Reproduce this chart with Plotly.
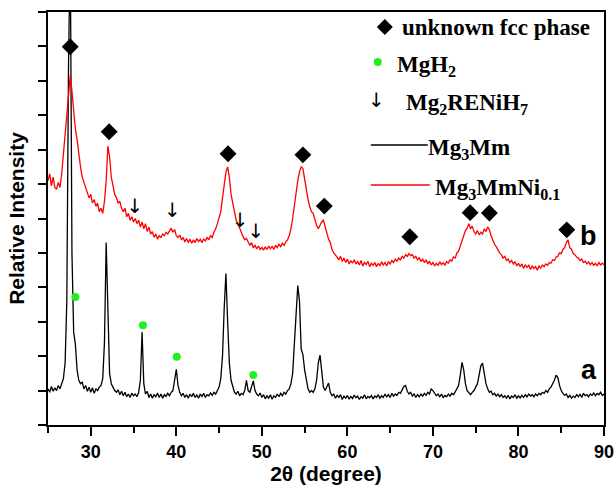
import plotly.graph_objects as go

# 2theta grid: 25.0 .. 90.0 in 0.2 degree steps (index i -> 25 + 0.2*i)
start_2theta = 25.0
step_2theta = 0.2

# curve a: Mg3Mm (black)
intensity_a = [
    1.05, 0.95, 1.12, 0.98, 1.08, 1.0, 1.15, 1.05, 1.2, 1.35,
    1.8, 3.6, 10.5, 14.0, 5.0, 2.7, 2.35, 1.6, 1.3, 1.2,
    1.25, 1.05, 1.15, 0.98, 1.1, 0.95, 1.08, 0.92, 1.05, 1.0,
    1.1, 1.15, 1.35, 2.4, 5.3, 3.6, 1.5, 1.2, 1.08, 1.0,
    0.95, 1.02, 0.88, 0.98, 0.85, 0.95, 0.82, 0.9, 0.8, 0.92,
    0.85, 0.9, 0.82, 0.95, 1.3, 2.7, 1.2, 0.9, 0.98, 0.8,
    0.9, 0.78, 0.88, 0.82, 0.93, 0.8, 0.9, 0.78, 0.88, 0.83,
    0.92, 0.85, 0.95, 1.0, 1.3, 1.62, 1.15, 0.95, 0.85, 0.92,
    0.8, 0.88, 0.78, 0.9, 0.82, 0.92, 0.8, 0.87, 0.78, 0.9,
    0.83, 0.92, 0.8, 0.88, 0.85, 0.93, 0.86, 0.95, 0.9, 1.0,
    1.1, 1.35, 2.0, 3.4, 4.4, 3.0, 1.8, 1.3, 1.1, 0.95,
    0.9, 0.98, 0.85, 0.92, 0.88, 1.0, 1.3, 1.0, 0.95, 1.1,
    1.28, 1.0, 0.9, 0.85, 0.93, 0.8, 0.88, 0.76, 0.85, 0.78,
    0.88, 0.75, 0.85, 0.8, 0.9, 0.82, 0.92, 0.85, 0.95, 0.9,
    1.0, 1.05, 1.2, 1.5, 2.2, 3.2, 4.05, 3.6, 2.2, 2.05,
    1.6, 1.25, 1.05, 0.95, 1.0, 0.95, 1.05, 1.3, 1.8, 2.03,
    1.5, 1.1, 1.0, 1.1, 1.22, 0.95, 0.85, 0.9, 0.78, 0.86,
    0.8, 0.88, 0.74, 0.84, 0.78, 0.86, 0.75, 0.83, 0.77, 0.87,
    0.79, 0.84, 0.74, 0.82, 0.78, 0.88, 0.76, 0.83, 0.79, 0.86,
    0.76, 0.84, 0.8, 0.88, 0.78, 0.85, 0.8, 0.9, 0.82, 0.88,
    0.8, 0.92, 0.84, 0.9, 0.86, 0.95, 0.92, 1.02, 1.12, 1.15,
    0.98, 0.9, 0.95, 0.84, 0.9, 0.8, 0.88, 0.82, 0.9, 0.84,
    0.92, 0.86, 0.95, 0.9, 1.05, 1.0, 0.92, 0.85, 0.9, 0.82,
    0.9, 0.8, 0.86, 0.82, 0.9, 0.84, 0.92, 0.88, 0.96, 1.05,
    1.15, 1.45, 1.82, 1.6, 1.2, 1.0, 0.92, 0.88, 0.95, 1.0,
    1.1, 1.2, 1.45, 1.72, 1.8, 1.5, 1.2, 1.05, 0.95, 0.98,
    0.88, 0.92, 0.84, 0.9, 0.82, 0.88, 0.8, 0.85, 0.78, 0.86,
    0.76, 0.84, 0.8, 0.88, 0.78, 0.85, 0.79, 0.86, 0.8, 0.88,
    0.82, 0.9, 0.84, 0.88, 0.82, 0.9, 0.85, 0.92, 0.88, 0.95,
    0.92, 1.0, 0.95, 1.05, 1.1, 1.2, 1.3, 1.45, 1.38, 1.15,
    1.0, 0.92, 0.86, 0.9, 0.8, 0.86, 0.78, 0.84, 0.8, 0.88,
    0.82, 0.9, 0.8, 0.92, 0.85, 0.88, 0.82, 0.9, 0.86, 0.93,
    0.85, 0.92, 0.88, 0.95, 0.86, 0.9,
]

# curve b: Mg3MmNi0.1 (red)
intensity_b = [
    7.1, 7.3, 6.95, 7.2, 6.9, 6.85, 7.05, 6.9, 7.3, 7.9,
    8.4, 9.0, 9.6, 10.15, 9.7, 9.0, 8.6, 8.3, 7.8, 7.5,
    7.2, 7.05, 6.85, 6.75, 6.6, 6.7, 6.45, 6.55, 6.35, 6.45,
    6.2, 6.3, 6.15, 6.5, 7.1, 8.1, 7.8, 7.2, 6.9, 6.7,
    6.6, 6.45, 6.5, 6.3, 6.2, 6.3, 6.05, 6.15, 5.95, 6.05,
    5.9, 6.0, 5.85, 5.95, 5.75, 5.9, 5.7, 5.85, 5.62, 5.75,
    5.55, 5.62, 5.45, 5.55, 5.4, 5.5, 5.45, 5.55, 5.5, 5.6,
    5.55, 5.65, 5.72, 5.6, 5.68, 5.5, 5.45, 5.52, 5.38, 5.45,
    5.32, 5.42, 5.3, 5.4, 5.28, 5.38, 5.3, 5.42, 5.33, 5.4,
    5.3, 5.4, 5.35, 5.45, 5.38, 5.5, 5.45, 5.6, 5.7, 5.85,
    6.0, 6.2, 6.6, 7.0, 7.35, 7.5, 7.2, 6.7, 6.45, 6.15,
    5.95, 5.85, 5.7, 5.6, 5.48, 5.38, 5.42, 5.3, 5.22, 5.3,
    5.15, 5.22, 5.12, 5.2, 5.1, 5.16, 5.08, 5.18, 5.1, 5.2,
    5.12, 5.2, 5.1, 5.22, 5.15, 5.25, 5.18, 5.28, 5.22, 5.32,
    5.38, 5.5, 5.7, 6.0, 6.4, 6.8, 7.1, 7.35, 7.5, 7.45,
    7.1, 6.85, 6.55, 6.35, 6.2, 6.15, 5.95, 5.8, 5.7, 5.82,
    5.9, 5.95, 5.75, 5.55, 5.4, 5.3, 5.1, 5.0, 4.95, 4.88,
    4.8, 4.9, 4.75, 4.85, 4.72, 4.82, 4.68, 4.78, 4.7, 4.8,
    4.68, 4.75, 4.65, 4.78, 4.62, 4.72, 4.66, 4.76, 4.6, 4.7,
    4.64, 4.72, 4.6, 4.7, 4.62, 4.74, 4.65, 4.72, 4.62, 4.75,
    4.68, 4.78, 4.72, 4.82, 4.76, 4.85, 4.8, 4.9, 4.85, 4.95,
    4.9, 4.98, 4.92, 4.95, 4.85, 4.9, 4.8, 4.86, 4.75, 4.82,
    4.72, 4.8, 4.68, 4.76, 4.65, 4.72, 4.62, 4.7, 4.64, 4.74,
    4.66, 4.72, 4.64, 4.75, 4.7, 4.8, 4.76, 4.88, 4.85, 5.0,
    5.05, 5.2, 5.35, 5.45, 5.65, 5.72, 5.85, 5.7, 5.78, 5.62,
    5.55, 5.65, 5.52, 5.6, 5.55, 5.7, 5.62, 5.75, 5.68, 5.5,
    5.35, 5.25, 5.18, 5.08, 5.0, 4.95, 4.85, 4.9, 4.78, 4.82,
    4.72, 4.78, 4.68, 4.75, 4.62, 4.7, 4.6, 4.68, 4.55, 4.65,
    4.58, 4.64, 4.52, 4.62, 4.55, 4.6, 4.5, 4.62, 4.56, 4.65,
    4.6, 4.68, 4.64, 4.72, 4.7, 4.8, 4.78, 4.88, 4.9, 5.0,
    4.98, 5.1, 5.15, 5.3, 5.38, 5.15, 5.1, 4.98, 4.95, 4.88,
    4.85, 4.78, 4.82, 4.72, 4.76, 4.68, 4.74, 4.66, 4.72, 4.64,
    4.7, 4.62, 4.72, 4.65, 4.7, 4.66,
]

# phase markers
fcc_x = [27.6, 32.15, 46.05, 54.8, 57.3, 67.3, 74.35, 76.6, 85.65]
fcc_y = [10.99, 8.52, 7.88, 7.85, 6.36, 5.47, 6.17, 6.16, 5.67]
mgh2_x = [28.2, 36.1, 40.05, 49.0]
mgh2_y = [3.72, 2.9, 1.98, 1.45]
hydride_x = [35.15, 39.55, 47.45, 49.3]
hydride_y = [6.3, 6.2, 5.9, 5.58]

theta_a = [start_2theta + step_2theta * i for i in range(len(intensity_a))]
theta_b = [start_2theta + step_2theta * i for i in range(len(intensity_b))]

fig = go.Figure()
fig.add_trace(go.Scatter(x=theta_a, y=intensity_a, mode="lines",
                         line=dict(color="black", width=1.3), showlegend=False))
fig.add_trace(go.Scatter(x=theta_b, y=intensity_b, mode="lines",
                         line=dict(color="#ff0000", width=1.3), showlegend=False))
fig.add_trace(go.Scatter(x=fcc_x, y=fcc_y, mode="markers",
                         marker=dict(symbol="diamond", size=13, color="black"),
                         showlegend=False, cliponaxis=False))
fig.add_trace(go.Scatter(x=mgh2_x, y=mgh2_y, mode="markers",
                         marker=dict(symbol="circle", size=8, color="#22ee22"),
                         showlegend=False))
fig.add_trace(go.Scatter(x=hydride_x, y=hydride_y, mode="text",
                         text=["↓"] * len(hydride_x),
                         textfont=dict(family="DejaVu Sans", size=20, color="black"),
                         showlegend=False))

# curve labels
fig.add_annotation(x=88.3, y=1.6, text="a", showarrow=False,
                   font=dict(family="Liberation Sans", size=27, color="black", weight="bold"))
fig.add_annotation(x=88.2, y=5.5, text="b", showarrow=False,
                   font=dict(family="Liberation Sans", size=27, color="black", weight="bold"))

# manual legend (paper coords)
L, W, B, H = 48.5, 555.5, 425.0, 413.0
def px(xp):
    return (xp - L) / W
def py(yp):
    return (B - yp) / H

serif = dict(family="Liberation Serif", size=23, color="black", weight="bold")
def legend_text(x, y, text):
    fig.add_annotation(xref="paper", yref="paper", x=px(x), y=py(y),
                       xanchor="left", yanchor="middle",
                       text=text, showarrow=False, font=serif)

# diamond
dx, dy, r = 385, 27, 8
fig.add_shape(type="path", xref="paper", yref="paper",
              path=f"M {px(dx-r)},{py(dy)} L {px(dx)},{py(dy-r)} L {px(dx+r)},{py(dy)} L {px(dx)},{py(dy+r)} Z",
              fillcolor="black", line=dict(color="black", width=0))
legend_text(400, 27, "unknown fcc phase")
# green dot
fig.add_shape(type="circle", xref="paper", yref="paper",
              x0=px(374), x1=px(382), y0=py(66), y1=py(58),
              fillcolor="#22ee22", line=dict(color="#22ee22", width=0))
legend_text(395, 66, "MgH<sub>2</sub>")
# arrow
fig.add_annotation(xref="paper", yref="paper", x=px(377), y=py(100),
                   xanchor="center", yanchor="middle",
                   text="↓", showarrow=False,
                   font=dict(family="DejaVu Sans", size=20, color="black"))
legend_text(404, 104, "Mg<sub>2</sub>RENiH<sub>7</sub>")
# black line
fig.add_shape(type="line", xref="paper", yref="paper",
              x0=px(371), x1=px(428), y0=py(145), y1=py(145),
              line=dict(color="black", width=1.3))
legend_text(426, 149, "Mg<sub>3</sub>Mm")
# red line
fig.add_shape(type="line", xref="paper", yref="paper",
              x0=px(371), x1=px(430), y0=py(185), y1=py(185),
              line=dict(color="#ff0000", width=1.3))
legend_text(433, 189, "Mg<sub>3</sub>MmNi<sub>0.1</sub>")

axis_font = dict(family="Liberation Sans", size=18, color="black", weight="bold")
title_font = dict(family="Liberation Sans", size=21, color="black", weight="bold")
fig.update_xaxes(range=[25, 90], tick0=30, dtick=10,
                 ticks="outside", ticklen=9, tickwidth=2, tickcolor="black",
                 minor=dict(tick0=25, dtick=5, ticks="outside", ticklen=6, tickwidth=2, tickcolor="black", showgrid=False),
                 showline=True, linewidth=2, linecolor="black", mirror=True,
                 showgrid=False, zeroline=False, tickfont=axis_font, automargin=False,
                 title=dict(text="2θ (degree)", font=title_font, standoff=6))
fig.update_yaxes(range=[0, 12], tick0=0, dtick=1, showticklabels=False,
                 ticks="outside", ticklen=8, tickwidth=2, tickcolor="black",
                 showline=True, linewidth=2, linecolor="black", mirror=True,
                 showgrid=False, zeroline=False, automargin=False,
                 title=dict(text="Relative Intensity", font=title_font, standoff=8))
fig.update_layout(template="none", width=616, height=492, margin=dict(l=48, r=12, t=12, b=67),
                  plot_bgcolor="white", paper_bgcolor="white", showlegend=False)
fig.write_html("out.html")
